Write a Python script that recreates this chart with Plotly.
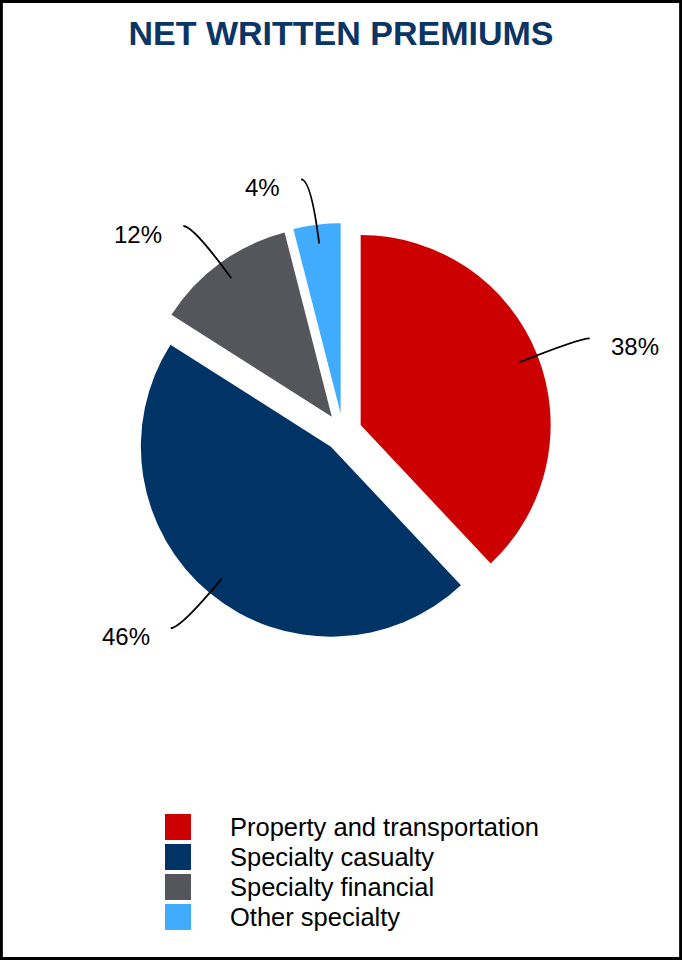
""" Net written premiums pie """

import math

import plotly.graph_objects as go

labels = ["Property and transportation", "Specialty casualty", "Specialty financial", "Other specialty"]
shares = [38, 46, 12, 4]
pct_labels = ["38%", "46%", "12%", "4%"]
colors = ["#CC0000", "#003366", "#55565B", "#41ABFD"]

W, H = 682, 960
FONT = "Liberation Sans, Arial, sans-serif"
PULL = 0.1
CX, CY, R = 343, 432, 190  # pie centre / radius in px


def px(x, y):
    """pixel -> paper coords (no margins)"""
    return x / W, 1 - y / H


half = R * (1 + PULL)
x0, y1 = px(CX - half, CY - half)
x1, y0 = px(CX + half, CY + half)

fig = go.Figure(
    go.Pie(
        labels=labels,
        values=shares,
        marker=dict(colors=colors, line=dict(width=0)),
        pull=[PULL] * len(shares),
        sort=False,
        direction="clockwise",
        rotation=0,
        textinfo="none",
        hoverinfo="label+percent",
        domain=dict(x=[x0, x1], y=[y0, y1]),
    )
)

# leader lines + percent labels, placed from slice mid angles
shapes = []
annotations = []
total = sum(shares)
cum = 0
for val, txt in zip(shares, pct_labels):
    mid = (cum + val / 2) / total * 2 * math.pi
    cum += val
    dx, dy = math.sin(mid), -math.cos(mid)
    vx, vy = CX + PULL * R * dx, CY + PULL * R * dy
    side = 1 if dx > 0 else -1
    sx, sy = vx + 0.9 * R * dx, vy + 0.9 * R * dy
    qx, qy = vx + 1.24 * R * dx, vy + 1.24 * R * dy
    ex, ey = qx + side * 10, qy
    p0, q, p1 = px(sx, sy), px(qx, qy), px(ex, ey)
    shapes.append(dict(
        type="path", xref="paper", yref="paper",
        path=f"M {p0[0]},{p0[1]} Q {q[0]},{q[1]} {p1[0]},{p1[1]}",
        line=dict(color="black", width=1.8),
    ))
    ax, ay = px(ex + side * 19, ey + 8)
    annotations.append(dict(
        x=ax, y=ay, xref="paper", yref="paper", text=txt, showarrow=False,
        xanchor="left" if side > 0 else "right", yanchor="middle",
        font=dict(size=24, color="black", family=FONT),
    ))

# legend drawn by hand to get the large swatches
for i, (lab, col) in enumerate(zip(labels, colors)):
    cy = 827 + i * 30
    a = px(165, cy - 13)
    b = px(191, cy + 13)
    shapes.append(dict(
        type="rect", xref="paper", yref="paper",
        x0=a[0], y0=b[1], x1=b[0], y1=a[1],
        fillcolor=col, line=dict(width=0),
    ))
    tx, ty = px(228, cy)
    annotations.append(dict(
        x=tx, y=ty, xref="paper", yref="paper", text=lab, showarrow=False,
        xanchor="left", yanchor="middle",
        font=dict(size=25.5, color="black", family=FONT),
    ))

# outer frame
shapes.append(dict(
    type="rect", xref="paper", yref="paper", x0=0.002, y0=0.0015, x1=0.998, y1=0.9985,
    line=dict(color="black", width=3),
))

fig.update_layout(
    width=W,
    height=H,
    margin=dict(l=0, r=0, t=0, b=0),
    paper_bgcolor="white",
    plot_bgcolor="white",
    showlegend=False,
    title=dict(
        text="<b>NET WRITTEN PREMIUMS</b>",
        x=0.5, xanchor="center", y=1 - 33 / H, yanchor="middle", yref="container",
        font=dict(size=34, color="#0B3564", family=FONT),
    ),
    shapes=shapes,
    annotations=annotations,
)

# drop the default 8px body margin so the figure fills the window
fig.write_html(
    "out.html",
    config={"displayModeBar": False},
    post_script="document.body.style.margin='0';",
)
